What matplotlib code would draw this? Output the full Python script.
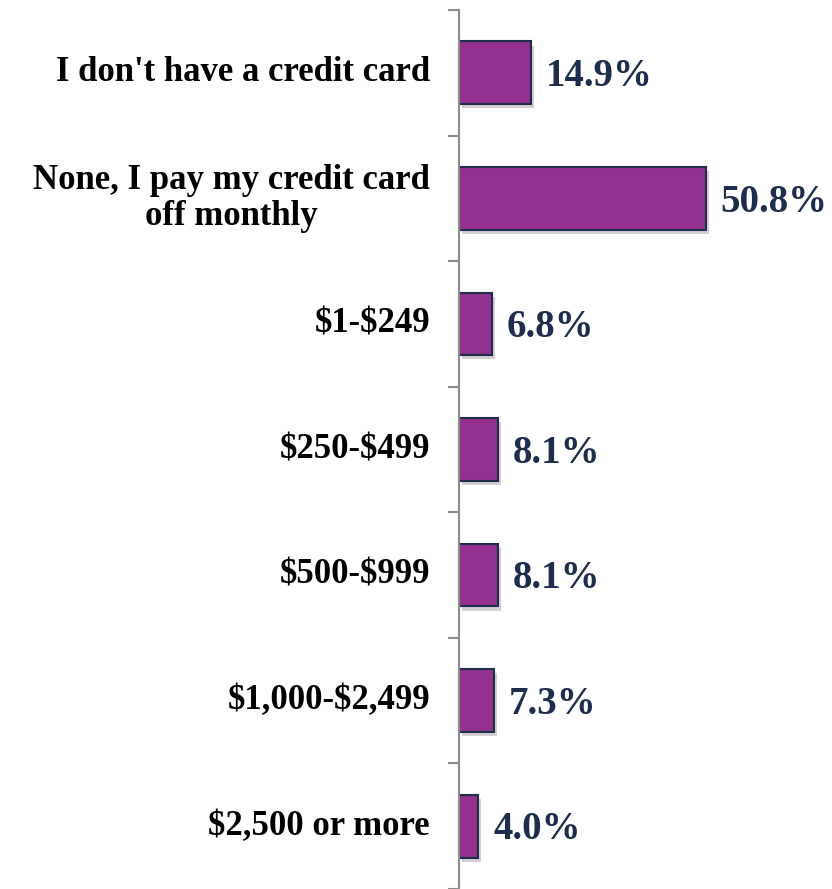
import numpy as np
import matplotlib.pyplot as plt
import matplotlib.patheffects as pe
from matplotlib.transforms import blended_transform_factory, offset_copy

# -------------------------------
# Credit card balance carried over
# -------------------------------
categories = [
    "I don't have a credit card",
    "None, I pay my credit card\noff monthly",
    "$1-$249",
    "$250-$499",
    "$500-$999",
    "$1,000-$2,499",
    "$2,500 or more",
]
shares = [14.9, 50.8, 6.8, 8.1, 8.1, 7.3, 4.0]
value_labels = [f"{v:.1f}%" for v in shares]

bar_color = '#93318E'
edge_color = '#1F2D4D'
text_navy = '#1F2D4D'
axis_gray = '#8C8C8C'

plt.rcParams['font.family'] = ['Liberation Serif', 'DejaVu Serif']

fig = plt.figure(figsize=(8.32, 8.89), dpi=100)
ax = fig.add_axes([459 / 832, 0.0, 1 - 459 / 832, 879 / 889])

y = np.arange(len(categories))
bars = ax.barh(y, shares, height=0.5, color=bar_color,
               edgecolor=edge_color, linewidth=1.5)
for b in bars:
    b.set_path_effects([pe.SimplePatchShadow(offset=(2, -3), alpha=0.2),
                        pe.Normal()])

ax.set_ylim(len(categories) - 0.5, -0.5)
ax.set_xlim(0, 373 / 4.86)

# spines / ticks at category boundaries
for side in ['top', 'right', 'bottom']:
    ax.spines[side].set_visible(False)
ax.spines['left'].set_color(axis_gray)
ax.spines['left'].set_linewidth(1.5)
ax.set_xticks([])
ax.set_yticks(np.arange(len(categories) + 1) - 0.5)
ax.set_yticklabels([])
ax.tick_params(axis='y', length=8, width=1.5, color=axis_gray, direction='out')

# category labels
trans = offset_copy(blended_transform_factory(ax.transAxes, ax.transData),
                    fig=fig, x=-29, y=0, units='dots')
for yi, lab in zip(y, categories):
    ax.text(0, yi, lab, transform=trans, ha='right', va='center',
            multialignment='center', fontsize=25, fontweight='bold',
            color='black', linespacing=1.12, parse_math=False)

# value labels
for yi, v, lab in zip(y, shares, value_labels):
    ax.text(v + 3.0, yi + 0.03, lab, ha='left', va='center', fontsize=28,
            fontweight='bold', color=text_navy, clip_on=False,
            parse_math=False)

fig.savefig('out.png', dpi=100)
